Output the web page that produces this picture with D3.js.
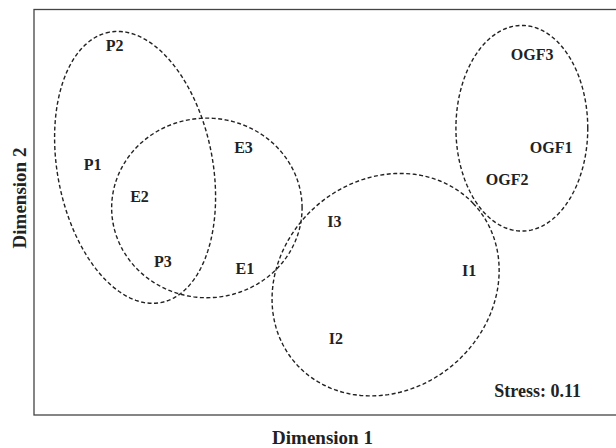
<!DOCTYPE html>
<html>
  <head>
    <meta charset="utf-8">
    <title>MDS plot</title>
    <style>
      body { margin: 0; background: #fff; }
      .lbl { font-family: "Liberation Serif", "Times New Roman", serif; font-weight: bold; fill: #222; }
      .grp { fill: none; stroke: #222; stroke-width: 1.4; stroke-dasharray: 4 2.5; }
      .frame { fill: none; stroke: #444; stroke-width: 1.3; }
    </style>
  </head>
  <body>
    <div id="chart"></div>
    <script src="https://d3js.org/d3.v7.min.js"></script>
    <script>
    // MDS configuration (dimension 1, dimension 2)
    var labels = ['P1', 'P2', 'P3', 'E1', 'E2', 'E3', 'I1', 'I2', 'I3', 'OGF1', 'OGF2', 'OGF3'];
    var dim1   = [-1.60, -1.45, -1.12, -0.56, -1.28, -0.57, 0.97, 0.06, 0.05, 1.53, 1.23, 1.40];
    var dim2   = [ 0.33,  1.15, -0.34, -0.39,  0.11,  0.45, -0.40, -0.87, -0.06, 0.45, 0.23, 1.09];

    // group ellipses: centre, semi axes, angle (deg, data space)
    var groups  = ['P', 'E', 'I', 'OGF'];
    var grpCx   = [-1.31, -0.82, 0.40, 1.33];
    var grpCy   = [ 0.31,  0.03, -0.50, 0.58];
    var grpA    = [ 0.95,  0.65, 0.82, 0.45];
    var grpB    = [ 0.53,  0.62, 0.72, 0.71];
    var grpRot  = [100.6,  0,   43,    0];

    var stressValue = 0.11;

    var width = 616, height = 448;
    var mLeft = 34, mTop = 9.5, mRight = 620, mBottom = 415;

    var x = d3.scaleLinear().domain([-2, 2]).range([mLeft, mRight]);
    var y = d3.scaleLinear().domain([-1.4, 1.4]).range([mBottom, mTop]);

    var svg = d3.select('#chart')
      .append('svg')
      .attr('width', width)
      .attr('height', height);

    svg.append('rect')
      .attr('class', 'frame')
      .attr('x', mLeft)
      .attr('y', mTop)
      .attr('width', mRight - mLeft)
      .attr('height', mBottom - mTop);

    // ellipses drawn as closed paths through the scales
    var line = d3.line()
      .x(function(d) { return x(d[0]); })
      .y(function(d) { return y(d[1]); })
      .curve(d3.curveLinearClosed);

    var ellipse = function(i) {
      var th = grpRot[i] * Math.PI / 180;
      return d3.range(0, 360, 2).map(function(deg) {
        var t = deg * Math.PI / 180;
        var u = grpA[i] * Math.cos(t), v = grpB[i] * Math.sin(t);
        return [grpCx[i] + u * Math.cos(th) - v * Math.sin(th),
                grpCy[i] + u * Math.sin(th) + v * Math.cos(th)];
      });
    };

    svg.selectAll('path.grp')
      .data(groups)
      .enter()
      .append('path')
      .attr('class', 'grp')
      .attr('d', function(d, i) { return line(ellipse(i)); });

    svg.selectAll('text.pt')
      .data(labels)
      .enter()
      .append('text')
      .attr('class', 'lbl pt')
      .attr('x', function(d, i) { return x(dim1[i]); })
      .attr('y', function(d, i) { return y(dim2[i]); })
      .attr('dy', '0.35em')
      .attr('text-anchor', 'middle')
      .style('font-size', '16px')
      .text(function(d) { return d; });

    svg.append('text')
      .attr('class', 'lbl')
      .attr('x', 581)
      .attr('y', 397)
      .attr('text-anchor', 'end')
      .style('font-size', '18px')
      .text('Stress: ' + stressValue.toFixed(2));

    // axis titles
    svg.append('text')
      .attr('class', 'lbl')
      .attr('x', 322.5)
      .attr('y', 444)
      .attr('text-anchor', 'middle')
      .style('font-size', '19px')
      .text('Dimension 1');

    svg.append('text')
      .attr('class', 'lbl')
      .attr('transform', 'translate(26,' + 198 + ') rotate(-90)')
      .attr('text-anchor', 'middle')
      .style('font-size', '19px')
      .text('Dimension 2');
    </script>
  </body>
</html>
